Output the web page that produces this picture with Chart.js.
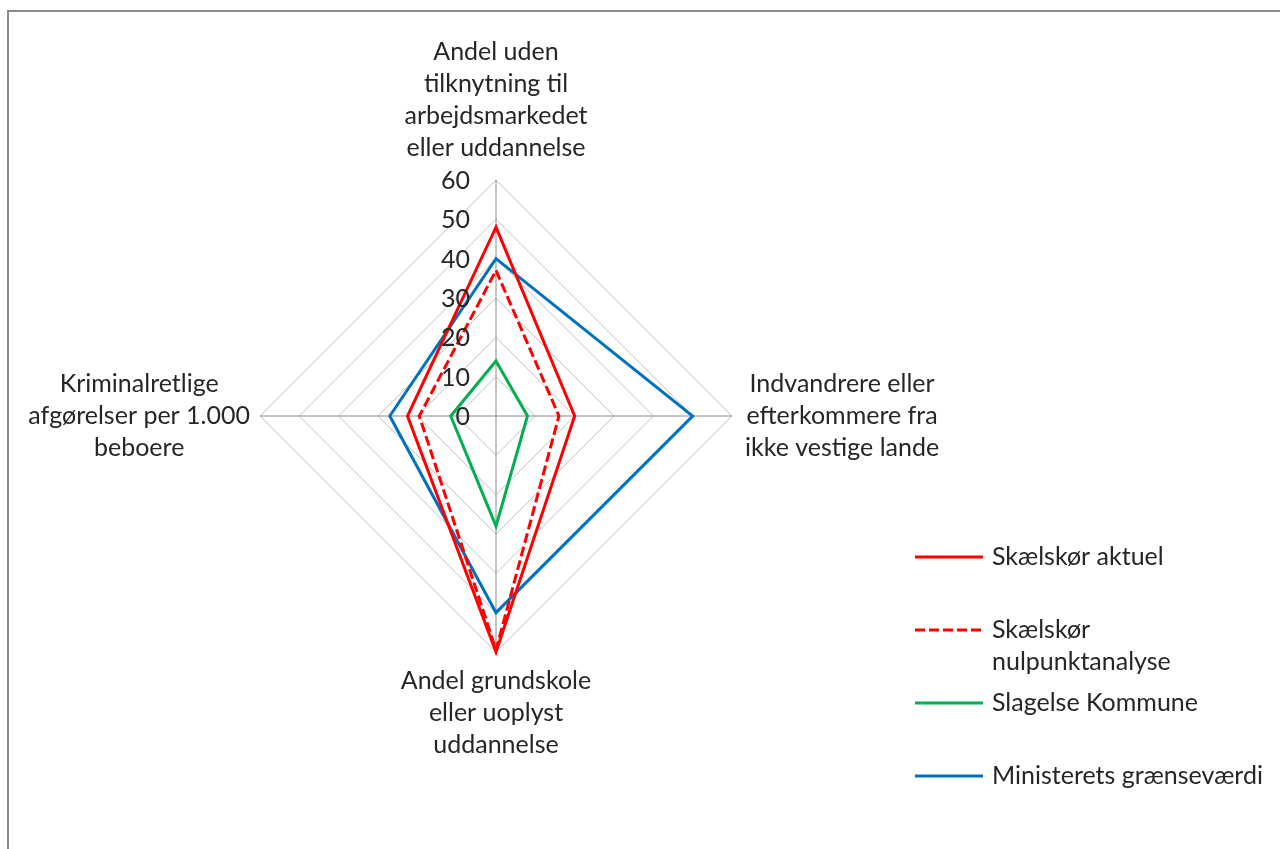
<!DOCTYPE html>
<html>
<head>
<meta charset="utf-8">
<script src="https://cdn.jsdelivr.net/npm/chart.js@4/dist/chart.umd.min.js"></script>
<style>
    html, body { margin: 0; padding: 0; background: #fff; overflow: hidden; }
    #frame {
        position: absolute; left: 7px; top: 10px; width: 1400px; height: 1000px;
        border-left: 2px solid #8a8a8a; border-top: 2px solid #8a8a8a;
    }
    #wrap { position: absolute; left: 0; top: 0; width: 1280px; height: 849px; }
</style>
</head>
<body>
<div id="frame"></div>
<div id="wrap"><canvas id="radarChart"></canvas></div>
<script>
// axis labels, clockwise from the top
const axisLabels = [
    ['Andel uden', 'tilknytning til', 'arbejdsmarkedet', 'eller uddannelse'],
    ['Indvandrere eller', 'efterkommere fra', 'ikke vestige lande'],
    ['Andel grundskole', 'eller uoplyst', 'uddannelse'],
    ['Kriminalretlige', 'afgørelser per 1.000', 'beboere']
];
const seriesNames = ['Skælskør aktuel', 'Skælskør nulpunktanalyse', 'Slagelse Kommune', 'Ministerets grænseværdi'];
const skaelskoerAktuel = [48, 20, 60, 22.5];
const skaelskoerNulpunkt = [37, 16, 59.5, 19.5];
const slagelseKommune = [14, 8, 28, 11.5];
const graensevaerdi = [40, 50, 50, 27];
const tickValues = [0, 10, 20, 30, 40, 50, 60];

const FONT = '25px Lato, "Liberation Sans", sans-serif';
const TEXT_COLOR = '#262626';
const LINE_H = 32;

// axis texts, tick numbers and legend drawn on the canvas
const labelPlugin = {
    id: 'excelLabels',
    afterDatasetsDraw(chart) {
        const scale = chart.scales.r;
        const ctx = chart.ctx;
        ctx.save();
        ctx.font = FONT;
        ctx.fillStyle = TEXT_COLOR;
        ctx.textBaseline = 'middle';

        // tick numbers, left of the vertical axis
        ctx.textAlign = 'right';
        tickValues.forEach(v => {
            const p = scale.getPointPositionForValue(0, v);
            ctx.fillText(String(v), p.x - 26, p.y + 1);
        });

        // point labels, each line centred in its block
        const pads = [16, 13, 13, 10];
        ctx.textAlign = 'center';
        chart.data.labels.forEach((lines, i) => {
            const p = scale.getPointPosition(i, scale.drawingArea + pads[i]);
            const w = Math.max(...lines.map(l => ctx.measureText(l).width));
            const h = lines.length * LINE_H;
            let cx = p.x, top = p.y - h / 2;
            if (i === 0) top = p.y - h;
            if (i === 1) cx = p.x + w / 2;
            if (i === 2) top = p.y;
            if (i === 3) cx = p.x - w / 2;
            lines.forEach((l, j) => ctx.fillText(l, cx, top + LINE_H * j + LINE_H / 2));
        });

        // legend
        ctx.textAlign = 'left';
        chart.data.datasets.forEach((ds, i) => {
            const y = 557 + 73 * i;
            ctx.beginPath();
            ctx.strokeStyle = ds.borderColor;
            ctx.lineWidth = 3;
            ctx.setLineDash(ds.borderDash || []);
            ctx.moveTo(915, y);
            ctx.lineTo(983, y);
            ctx.stroke();
            ctx.setLineDash([]);
            // wrap the name when it is wider than the space left
            const words = ds.label.split(' ');
            const rows = [];
            let row = '';
            words.forEach(wd => {
                const test = row ? row + ' ' + wd : wd;
                if (row && ctx.measureText(test).width > 276) {
                    rows.push(row);
                    row = wd;
                } else {
                    row = test;
                }
            });
            rows.push(row);
            rows.forEach((r, j) => ctx.fillText(r, 992, y + j * LINE_H));
        });
        ctx.restore();
    }
};

const ctx = document.getElementById('radarChart').getContext('2d');
window.radarChart = new Chart(ctx, {
    type: 'radar',
    data: {
        labels: axisLabels,
        datasets: [{
                label: seriesNames[0],
                data: skaelskoerAktuel,
                borderColor: '#ff0000'
            },
            {
                label: seriesNames[1],
                data: skaelskoerNulpunkt,
                borderColor: '#ff0000',
                borderDash: [10, 4]
            },
            {
                label: seriesNames[2],
                data: slagelseKommune,
                borderColor: '#00b050'
            },
            {
                label: seriesNames[3],
                data: graensevaerdi,
                borderColor: '#0070c0'
            }
        ]
    },
    options: {
        responsive: true,
        maintainAspectRatio: false,
        animation: false,
        layout: {
            padding: { left: 260, top: 180, right: 548, bottom: 197 }
        },
        elements: {
            line: { borderWidth: 3, tension: 0, fill: false },
            point: { radius: 0, hitRadius: 0, hoverRadius: 0 }
        },
        scales: {
            r: {
                min: 0,
                max: 60,
                ticks: { stepSize: 10, display: false },
                grid: { circular: false, color: '#c0c0c0', lineWidth: 1 },
                angleLines: { color: '#8a8a8a', lineWidth: 1 },
                pointLabels: { display: false }
            }
        },
        plugins: {
            legend: { display: false },
            tooltip: { enabled: false }
        }
    },
    plugins: [labelPlugin]
});
</script>
</body>
</html>
